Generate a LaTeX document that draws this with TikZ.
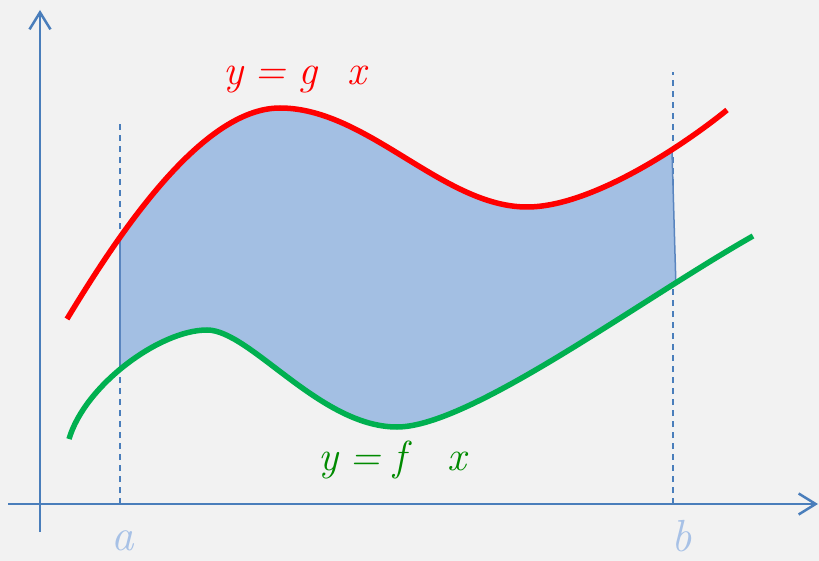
\documentclass[tikz,border=0pt]{standalone}
\usetikzlibrary{arrows.meta,intersections}
\definecolor{bg}{HTML}{F2F2F2}
\definecolor{axis}{HTML}{4A7EBB}
\definecolor{area}{HTML}{A3BFE3}
\definecolor{areaedge}{HTML}{5A85BF}
\definecolor{gred}{HTML}{FF0000}
\definecolor{fgreen}{HTML}{00B050}
\definecolor{ftext}{HTML}{008A00}
\definecolor{ablue}{HTML}{A7C1E6}
\newcommand\eqgap{\hspace{0.28em}=\hspace{0.28em}}
\tikzset{
  axisline/.style={draw=axis, line width=2.5pt, -{Straight Barb[length=17pt,width=21pt]}},
  guide/.style={draw=axis, line width=1.6pt, dash pattern=on 6pt off 5pt},
  gcurve/.style={draw=gred, line width=5.5pt},
  fcurve/.style={draw=fgreen, line width=5.5pt},
  biglabel/.style={anchor=base west, inner sep=0pt, font=\fontsize{42}{50}\selectfont\itshape},
  endlabel/.style={anchor=base west, inner sep=0pt, text=ablue, font=\fontsize{45}{54}\selectfont\itshape},
}
\begin{document}
\begin{tikzpicture}[x=1pt,y=-1pt]
\fill[bg] (0,0) rectangle (819,561);
\useasboundingbox (0,0) rectangle (819,561);
% guides
\draw[guide] (120,504) -- (120,120);
\draw[guide] (673,504) -- (673,72);
% invisible paths
\path[name path=R] (67,319) .. controls (115,240) and (200,108) .. (280,108)
  .. controls (367,108) and (443,207) .. (527,207)
  .. controls (590,207) and (680,148) .. (727,110);
\path[name path=G] (69,439) .. controls (85,385) and (160,330) .. (207,330)
  .. controls (250,330) and (320,427) .. (397,427)
  .. controls (470,427) and (640,300) .. (753,236);
\path[name path=V1] (120,0) -- (120,561);
\path[name path=V2] (667.6,0) -- (683.9,561);
\path[name intersections={of=R and V1, by=r1}];
\path[name intersections={of=G and V1, by=g1}];
\path[name intersections={of=R and V2, by=r2}];
\path[name intersections={of=G and V2, by=g2}];
% area
\begin{scope}
\clip (120,0) -- (667.6,0) -- (683.9,561) -- (120,561) -- cycle;
\fill[area, draw=areaedge, line width=1pt] (67,319) .. controls (115,240) and (200,108) .. (280,108)
  .. controls (367,108) and (443,207) .. (527,207)
  .. controls (590,207) and (680,148) .. (727,110)
  -- (753,236) .. controls (640,300) and (470,427) .. (397,427)
  .. controls (320,427) and (250,330) .. (207,330)
  .. controls (160,330) and (85,385) .. (69,439) -- cycle;
\end{scope}
\draw[areaedge, line width=1.8pt] (r1) -- (g1);
\draw[areaedge, line width=1.5pt] (r2) -- (g2);
% axes
\draw[axisline] (40,532) -- (40,10);
\draw[axisline] (8,504) -- (818,504);
% curves
\draw[gcurve] (67,319) .. controls (115,240) and (200,108) .. (280,108)
  .. controls (367,108) and (443,207) .. (527,207)
  .. controls (590,207) and (680,148) .. (727,110);
\draw[fcurve] (69,439) .. controls (85,385) and (160,330) .. (207,330)
  .. controls (250,330) and (320,427) .. (397,427)
  .. controls (470,427) and (640,300) .. (753,236);
% labels
\node[biglabel, text=gred] (glabel) at (223,85) {y\eqgap{}g\hspace{30pt}x};
\node[biglabel, text=ftext] (flabel) at (318,470) {y\eqgap{}f\hspace{42pt}x};
\node[endlabel] (alabel) at (111,550) {a};
\node[endlabel] (blabel) at (671,551) {b};
\end{tikzpicture}
\end{document}
